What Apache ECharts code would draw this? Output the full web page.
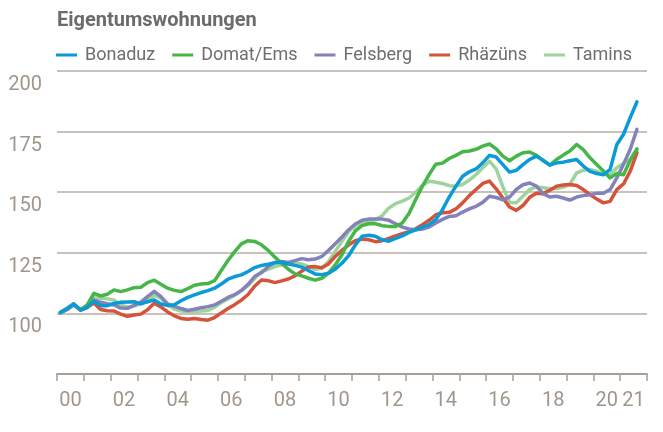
<!DOCTYPE html>
<html>
<head>
<meta charset="utf-8">
<script src="https://cdn.jsdelivr.net/npm/echarts@6/dist/echarts.min.js"></script>
<style>
  html, body { margin: 0; padding: 0; background: #fff; }
  #chart { width: 663px; height: 432px; }
</style>
</head>
<body>
<div id="chart"></div>
<script>
// Jahreskategorien der x-Achse (00 .. 21)
const years = ['00','01','02','03','04','05','06','07','08','09','10','11','12','13','14','15','16','17','18','19','20','21'];
const yTicks = [100, 125, 150, 175, 200];

// Quartalswerte, Index 2000 Q1 = 100 (bis 2021 Q3)
const bonaduz = [
  100.4,102,103.9,101.4,102.5,105.1,103.2,103.2,104.1,104.6,104.7,104.8,103.9,104.8,105.5,103.9,103.3,103.6,105.2,106.6,107.6,108.6,109.4,110.4,112.1,114.1,115.2,115.9,117.3,118.9,
  119.8,120.3,120.9,121.1,120.4,119.8,119.1,117.7,116.3,116,116.6,118.2,120.7,123.8,128.3,131.8,132.2,131.8,130.4,129.8,130.9,132,133.4,134.5,135.6,136.6,138.7,
  142.8,148,152.5,156.6,158.4,159.6,162.1,165.2,164.5,161.4,158.3,159,161.4,163.5,164.9,163.2,161.2,162.1,162.4,163,163.5,160.8,158.6,157.7,157.2,159.4,169.7,173.9,180.8,187.3
];
const domatEms = [
  100.4,102,103.9,101.4,103.5,108.3,107.2,107.9,109.7,109,109.7,110.6,110.8,112.7,113.7,112,110.4,109.5,109,110.2,111.6,112.1,112.3,113.5,117.7,121.8,125.5,128.7,130,129.7,
  128.3,126,123.2,120.7,118.2,116.3,115.5,114.5,113.7,114.5,116.6,120,124.2,129.7,134.1,136.2,137,137,136.2,135.9,135.9,137.3,141.2,147,152.5,157.3,161.5,
  162,163.9,165.2,166.7,167,167.7,169,169.9,167.9,164.9,163,164.9,166.3,166.6,165.2,163,161.2,163.5,165.3,167,169.7,167.6,164.2,161.4,158.7,155.9,157.7,157.2,163.2,167.9
];
const felsberg = [
  100.2,101.5,103.5,101.4,102.5,105.5,104.6,104,103.5,102.2,102.1,103.3,104.7,106.9,109.1,106.9,103.9,102.9,102,101.2,101.7,102.3,102.8,103.5,105,106.6,107.7,109.4,112,115.3,
  116.8,119.3,121,121.4,121,121.8,122.6,122.1,122.4,123.5,126,128.7,131.5,134.5,136.9,138.4,138.9,138.9,138.9,138.4,137,135.6,134.8,134.5,134.8,135.6,137.3,
  138.8,140,140.3,141.8,143.1,144.2,145.8,148.3,147.8,146.9,148,151.1,153.1,153.8,152.5,149.4,148,148.3,147.6,146.7,148,148.6,148.9,149.6,149.6,151.1,155.9,161.5,167.7,175.9
];
const rhazuens = [
  100.4,101.8,103.9,101.4,102.5,104.3,101.6,101.1,101,99.7,98.8,99.3,99.7,101.5,104.2,102.7,100.6,99,97.9,97.6,97.9,97.5,97.2,98.3,100.2,102,103.6,105.5,107.8,111.3,
  113.8,113.5,112.7,113.4,114.2,115.5,117.4,119.1,119.3,118.8,120.4,123.5,126,128.3,130,130.7,130.4,129.6,130,130.9,132,132.9,133.7,134.9,136.6,138.4,140.7,
  141.5,141.7,143.1,145.6,148.6,151.1,153.6,154.6,151.4,147.6,143.9,142.5,144.5,147.9,149.6,149.4,150.8,152.5,153,153.2,152.8,151.1,149,147.2,145.6,146.2,151.1,153.4,158.7,166.3
];
const tamins = [
  100.3,101.8,103.8,101.4,102.5,106.5,106.2,106,105.5,103.5,102.6,103,104,105.5,107.5,106.2,103.5,101.8,101,100.8,100.8,101,101.2,102.5,104.5,106,107.5,109.5,111.5,114.5,
  117.3,118.2,119.3,120,120.3,120.7,120.4,119.3,118.2,118.6,121.4,125.5,129.7,133.8,136.2,137.3,137.8,138.7,140.3,143.5,145.3,146.3,147.6,150,152.8,154.5,154.1,
  153.6,152.7,152.5,153.2,155,157.3,160.1,162.8,159.6,152.2,145.8,145.6,148.3,151.1,152.2,151.8,151.4,151.5,152.1,153.2,158,159,159.4,158.7,157.3,157.3,160.1,161.9,163.5,167.4
];

// Quartalskategorien für die (unsichtbare) Datenachse
const quarters = [];
years.forEach(y => {
  for (let q = 1; q <= 4; q++) quarters.push('20' + y + ' Q' + q);
});

const axisColor = '#a89e95';
const labelColor = '#a0968c';
const labelFont = 'Roboto, sans-serif';

const chart = echarts.init(document.getElementById('chart'), null, { renderer: 'canvas' });

function line(name, data, color) {
  return {
    name: name,
    type: 'line',
    xAxisIndex: 1,
    data: data,
    showSymbol: false,
    symbol: 'none',
    lineStyle: { width: 3.5, color: color, cap: 'round', join: 'round' },
    itemStyle: { color: color },
    emphasis: { disabled: true }
  };
}

chart.setOption({
  animation: false,
  title: {
    text: 'Eigentumswohnungen',
    left: 52,
    top: 6,
    textStyle: {
      fontFamily: 'Roboto, sans-serif',
      fontWeight: 'bold',
      fontSize: 20,
      color: '#6b6b6b'
    }
  },
  legend: {
    data: ['Bonaduz', 'Domat/Ems', 'Felsberg', 'Rhäzüns', 'Tamins'],
    left: 51,
    top: 41,
    icon: 'rect',
    itemWidth: 21,
    itemHeight: 3,
    itemGap: 17,
    textStyle: {
      fontFamily: 'Roboto, sans-serif',
      fontSize: 18,
      color: '#6e6e6e',
      padding: [0, 0, 0, 3]
    }
  },
  grid: {
    left: 57,
    right: 16,
    top: 71,
    bottom: 58
  },
  xAxis: [
    {
      type: 'category',
      data: years,
      boundaryGap: true,
      axisLine: { lineStyle: { color: axisColor, width: 2 } },
      axisTick: { show: true, interval: 0, length: 7, lineStyle: { color: axisColor, width: 1.5 } },
      axisLabel: {
        interval: (i) => i % 2 === 0 || i === years.length - 1,
        color: labelColor,
        fontFamily: labelFont,
        fontSize: 20,
        margin: 17
      },
      splitLine: { show: false }
    },
    {
      type: 'category',
      data: quarters,
      boundaryGap: true,
      show: false
    }
  ],
  yAxis: {
    type: 'value',
    min: 75,
    max: 200,
    interval: 25,
    axisLine: { show: false },
    axisTick: { show: false },
    axisLabel: {
      color: labelColor,
      fontFamily: labelFont,
      fontSize: 20,
      margin: 15,
      verticalAlign: 'top',
      padding: [4, 0, 0, 0],
      formatter: (v) => yTicks.indexOf(v) >= 0 ? String(v) : ''
    },
    splitLine: { lineStyle: { color: '#b7aea6', width: 1.5 } }
  },
  series: [
    line('Tamins', tamins, '#9fd39c'),
    line('Rhäzüns', rhazuens, '#d5533a'),
    line('Felsberg', felsberg, '#8482bb'),
    line('Domat/Ems', domatEms, '#47b648'),
    line('Bonaduz', bonaduz, '#0a9ad8')
  ]
});
</script>
</body>
</html>
